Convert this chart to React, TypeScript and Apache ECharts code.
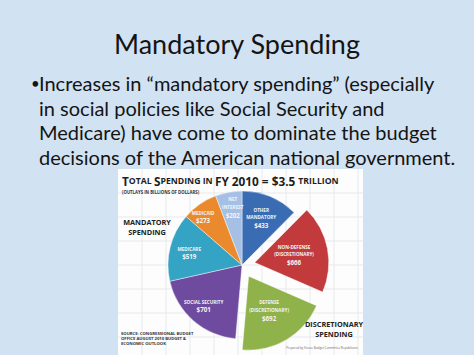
import React, { useEffect, useRef } from "react";
import * as echarts from "echarts";

const sliceNames = [
  "Other Mandatory",
  "Non-Defense (Discretionary)",
  "Defense (Discretionary)",
  "Social Security",
  "Medicare",
  "Medicaid",
  "Net Interest",
];
const sliceLabelLines = [
  ["OTHER", "MANDATORY"],
  ["NON-DEFENSE", "(DISCRETIONARY)"],
  ["DEFENSE", "(DISCRETIONARY)"],
  ["SOCIAL SECURITY"],
  ["MEDICARE"],
  ["MEDICAID"],
  ["NET", "INTEREST"],
];
const outlays = [433, 666, 692, 701, 519, 273, 202];
const isDiscretionary = [false, true, true, false, false, false, false];

const slideTitle = "Mandatory Spending";
const bulletLines = [
  "Increases in \u201cmandatory spending\u201d (especially",
  "in social policies like Social Security and",
  "Medicare) have come to dominate the budget",
  "decisions of the American national government.",
];
const sourceLines = [
  "SOURCE: CONGRESSIONAL BUDGET",
  "OFFICE AUGUST 2010 BUDGET &",
  "ECONOMIC OUTLOOK",
];

// styles
const sliceColors = ["#3a6cb4", "#c23a3b", "#8fb24a", "#6e4b9f", "#35a3c3", "#eb8a2d", "#a5c0e4"];
const labelOffsets = [
  [4, -10],
  [7, 2],
  [-5, 3],
  [-12, 11],
  [-14, -2],
  [-16, -15],
  [-2, -18],
];

export default function App() {
  const ref = useRef<HTMLDivElement>(null);
  useEffect(() => {
    if (!ref.current) return;
    const chart = echarts.init(ref.current, undefined, { renderer: "svg" });

    const graphics: any[] = [];
    graphics.push({ type: "rect", z: 0, shape: { x: 0, y: 0, width: 474, height: 355 }, style: { fill: "#d1e2f3" } });
    graphics.push({ type: "rect", z: 1, shape: { x: 118, y: 169, width: 245, height: 190 }, style: { fill: "#fdfdfd" } });
    for (let gx = 118 + 24; gx < 363; gx += 24) {
      graphics.push({ type: "line", z: 1, shape: { x1: gx, y1: 169, x2: gx, y2: 355 }, style: { stroke: "#e6e9ec", lineWidth: 1 } });
    }
    for (let gy = 169 + 24; gy < 355; gy += 24) {
      graphics.push({ type: "line", z: 1, shape: { x1: 118, y1: gy, x2: 363, y2: gy }, style: { stroke: "#e6e9ec", lineWidth: 1 } });
    }
    graphics.push({
      type: "text", z: 5, x: 237, y: 43,
      style: { text: slideTitle, fontFamily: "Lato", fontSize: 27, fill: "#141414", align: "center", verticalAlign: "middle" },
    });
    graphics.push({
      type: "text", z: 5, x: 31, y: 83,
      style: { text: "\u2022", fontFamily: "Lato", fontSize: 15, fill: "#141414", align: "left", verticalAlign: "middle" },
    });
    bulletLines.forEach((t, i) => {
      graphics.push({
        type: "text", z: 5, x: 39, y: 83 + i * 24.7,
        style: { text: t, fontFamily: "Lato", fontSize: 20, fill: "#141414", align: "left", verticalAlign: "middle" },
      });
    });
    graphics.push({
      type: "text", z: 5, x: 122, y: 181,
      style: {
        text: "{a|T}{b|OTAL }{a|S}{b|PENDING IN }{a|FY 2010 = $3.5 }{b|TRILLION}",
        align: "left", verticalAlign: "middle",
        rich: {
          a: { fontFamily: "Open Sans", fontWeight: "bold", fontSize: 11.8, fill: "#1e1e1e" },
          b: { fontFamily: "Open Sans", fontWeight: "bold", fontSize: 8.7, fill: "#1e1e1e" },
        },
      },
    });
    graphics.push({
      type: "text", z: 5, x: 122, y: 192,
      style: { text: "(OUTLAYS IN BILLIONS OF DOLLARS)", fontFamily: "Open Sans", fontWeight: "bold", fontSize: 4.3, fill: "#333", align: "left", verticalAlign: "middle" },
    });
    graphics.push({
      type: "text", z: 5, x: 147, y: 227,
      style: { text: "MANDATORY\nSPENDING", fontFamily: "Open Sans", fontWeight: "bold", fontSize: 7.3, lineHeight: 9.5, fill: "#222", align: "center", verticalAlign: "middle" },
    });
    graphics.push({
      type: "text", z: 5, x: 334, y: 329,
      style: { text: "DISCRETIONARY\nSPENDING", fontFamily: "Open Sans", fontWeight: "bold", fontSize: 7.3, lineHeight: 10, fill: "#222", align: "center", verticalAlign: "middle" },
    });
    graphics.push({
      type: "text", z: 5, x: 121, y: 338,
      style: { text: sourceLines.join("\n"), fontFamily: "Open Sans", fontWeight: "bold", fontSize: 4.2, lineHeight: 5, fill: "#333", align: "left", verticalAlign: "middle" },
    });
    graphics.push({
      type: "text", z: 5, x: 322, y: 348,
      style: { text: "Prepared by House Budget Committee Republicans", fontFamily: "Open Sans", fontSize: 3, fill: "#666", align: "center", verticalAlign: "middle" },
    });

    const data = outlays.map((v, i) => ({
      name: sliceNames[i],
      value: v,
      selected: isDiscretionary[i],
      itemStyle: { color: sliceColors[i] },
      label: { offset: labelOffsets[i] },
    }));

    chart.setOption({
      animation: false,
      graphic: { elements: graphics },
      series: [
        {
          type: "pie",
          z: 3,
          center: [242, 265],
          radius: 74,
          startAngle: 90,
          clockwise: true,
          selectedMode: "multiple",
          selectedOffset: 13,
          silent: true,
          emphasis: { disabled: true },
          itemStyle: { borderColor: "rgba(255,255,255,0.55)", borderWidth: 0.8 },
          label: {
            show: true,
            position: "inside",
            formatter: (p: any) =>
              sliceLabelLines[p.dataIndex].map((s) => `{n|${s}}`).join("\n") + `\n{v|$${p.value}}`,
            rich: {
              n: { fontFamily: "Open Sans", fontWeight: "bold", fontSize: 4.6, lineHeight: 7.5, color: "#f4f4f4", align: "center" },
              v: { fontFamily: "Open Sans", fontWeight: "bold", fontSize: 6.2, lineHeight: 9, color: "#f4f4f4", align: "center" },
            },
          },
          labelLine: { show: false },
          data,
        },
      ],
    });
    return () => chart.dispose();
  }, []);
  return <div ref={ref} style={{ position: "absolute", left: 0, top: 0, width: 474, height: 355 }} />;
}
